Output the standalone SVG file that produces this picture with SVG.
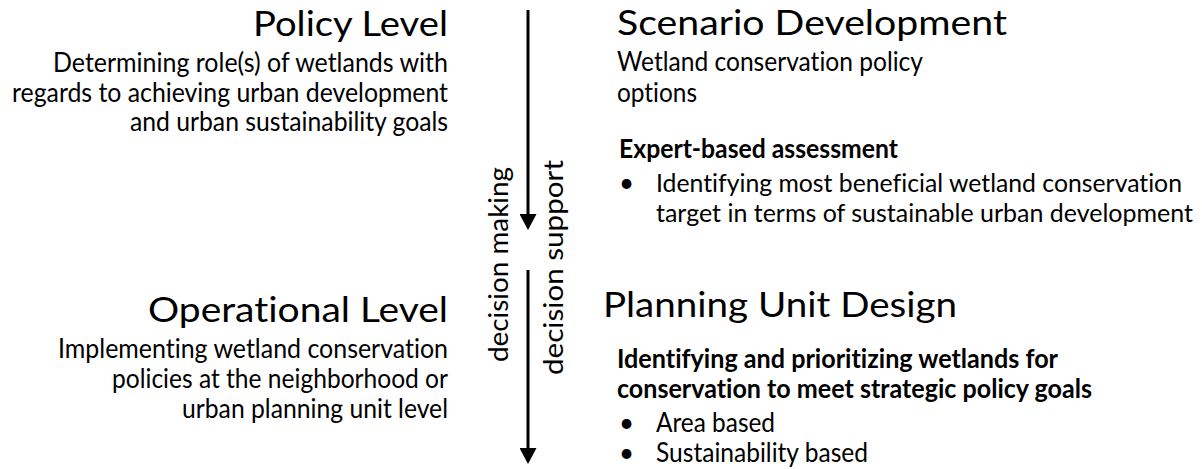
<svg xmlns="http://www.w3.org/2000/svg" width="1202" height="469" viewBox="0 0 1202 469">
<style>
.t{font-family:Lato,"Open Sans","Liberation Sans",sans-serif;fill:#000;font-variant-ligatures:none}
.title{font-size:34px}
.body{font-size:26px}
.sm{font-size:25px}
.b{font-weight:700}
.conn{stroke:#000;stroke-width:3;fill:none}
</style>
<defs>
<marker id="ah" markerUnits="userSpaceOnUse" viewBox="0 0 16 17" markerWidth="16" markerHeight="17" refX="8" refY="8.5" orient="auto">
<path d="M0,0 L16,8.5 L0,17 Z" fill="#000"/>
</marker>
</defs>
<rect width="1202" height="469" fill="#fff"/>
<g id="policy-level">
<text class="t title" x="253" y="36" textLength="195" lengthAdjust="spacingAndGlyphs">Policy Level</text>
<text class="t body" x="53" y="72" textLength="395" lengthAdjust="spacingAndGlyphs">Determining role(s) of wetlands with</text>
<text class="t body" x="12" y="102" textLength="436" lengthAdjust="spacingAndGlyphs">regards to achieving urban development</text>
<text class="t body" x="130" y="131" textLength="318" lengthAdjust="spacingAndGlyphs">and urban sustainability goals</text>
</g>
<g id="operational-level">
<text class="t title" x="148" y="322" textLength="300" lengthAdjust="spacingAndGlyphs">Operational Level</text>
<text class="t body" x="58" y="358" textLength="390" lengthAdjust="spacingAndGlyphs">Implementing wetland conservation</text>
<text class="t body" x="112" y="388" textLength="336" lengthAdjust="spacingAndGlyphs">policies at the neighborhood or</text>
<text class="t body" x="182" y="418" textLength="266" lengthAdjust="spacingAndGlyphs">urban planning unit level</text>
</g>
<g id="scenario-development">
<text class="t title" x="617" y="35" textLength="390" lengthAdjust="spacingAndGlyphs">Scenario Development</text>
<text class="t body" x="617" y="71" textLength="306" lengthAdjust="spacingAndGlyphs">Wetland conservation policy</text>
<text class="t body" x="617" y="102" textLength="80" lengthAdjust="spacingAndGlyphs">options</text>
<text class="t body b" x="619" y="158" textLength="279" lengthAdjust="spacingAndGlyphs">Expert-based assessment</text>
<text class="t body" x="619" y="192">•</text>
<text class="t sm" x="656" y="192" textLength="526" lengthAdjust="spacingAndGlyphs">Identifying most beneficial wetland conservation</text>
<text class="t sm" x="656" y="222" textLength="537" lengthAdjust="spacingAndGlyphs">target in terms of sustainable urban development</text>
</g>
<g id="planning-unit-design">
<text class="t title" x="603" y="317" textLength="354" lengthAdjust="spacingAndGlyphs">Planning Unit Design</text>
<text class="t body b" x="617" y="368" textLength="441" lengthAdjust="spacingAndGlyphs">Identifying and prioritizing wetlands for</text>
<text class="t body b" x="617" y="398" textLength="475" lengthAdjust="spacingAndGlyphs">conservation to meet strategic policy goals</text>
<text class="t body" x="619" y="432">•</text>
<text class="t body" x="656" y="432" textLength="119" lengthAdjust="spacingAndGlyphs">Area based</text>
<text class="t body" x="619" y="462">•</text>
<text class="t body" x="656" y="462" textLength="212" lengthAdjust="spacingAndGlyphs">Sustainability based</text>
</g>
<g id="connectors">
<line class="conn" x1="528" y1="10" x2="528" y2="222" marker-end="url(#ah)"/>
<line class="conn" x1="528" y1="270" x2="528" y2="456" marker-end="url(#ah)"/>
<text class="t body" transform="translate(508,362) rotate(-90)" textLength="195" lengthAdjust="spacingAndGlyphs">decision making</text>
<text class="t body" transform="translate(563,375) rotate(-90)" textLength="215" lengthAdjust="spacingAndGlyphs">decision support</text>
</g>
</svg>
